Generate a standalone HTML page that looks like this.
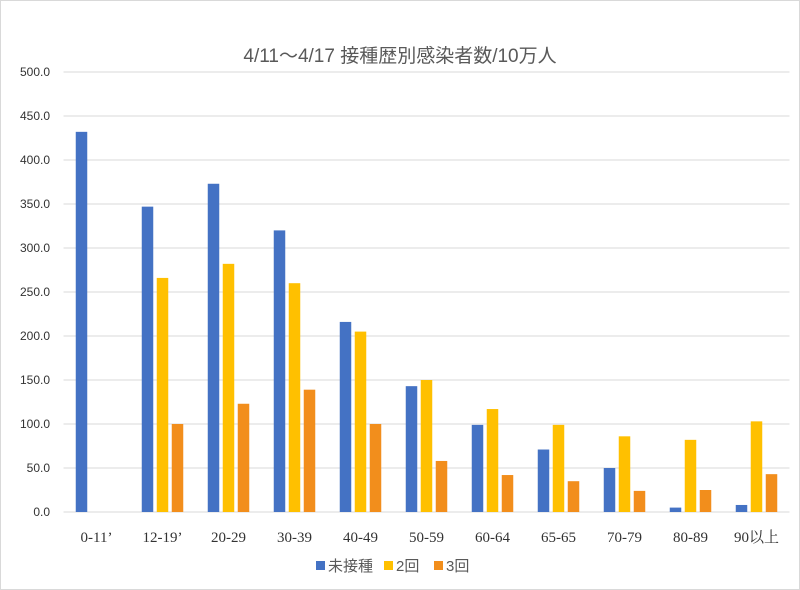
<!DOCTYPE html>
<html><head><meta charset="utf-8"><style>
body{margin:0;background:#fff;}
svg{display:block;font-family:"Liberation Sans","Noto Sans CJK JP",sans-serif;}
</style></head><body>
<svg id="chart" width="800" height="590" viewBox="0 0 800 590">
<rect x="0.5" y="0.5" width="799" height="589" fill="#fff" stroke="#d9d9d9"/>
<text x="400" y="62" text-anchor="middle" font-size="19" fill="#595959">4/11～4/17 接種歴別感染者数/10万人</text>
<g id="grid"></g><g id="bars"></g><g id="labels"></g>
<g>
<rect x="316" y="561" width="9" height="9" fill="#4472C4"/>
<text x="328" y="571" font-size="15" fill="#595959">未接種</text>
<rect x="384" y="561" width="9" height="9" fill="#FFC000"/>
<text x="396" y="571" font-size="15" fill="#595959">2回</text>
<rect x="434" y="561" width="9" height="9" fill="#F28E1C"/>
<text x="446" y="571" font-size="15" fill="#595959">3回</text>
</g>
</svg>
<script>
const categories=["0-11’","12-19’","20-29","30-39","40-49","50-59","60-64","65-65","70-79","80-89","90以上"];
const unvaccinated=[432,347,373,320,216,143,99,71,50,5,8];
const dose2=[0,266,282,260,205,150,117,99,86,82,103];
const dose3=[0,100,123,139,100,58,42,35,24,25,43];
const yTicks=[0,50,100,150,200,250,300,350,400,450,500];
const NS="http://www.w3.org/2000/svg";
const x0=63.5,groupW=66,yBase=512,yTop=72,yMax=500;
function y(v){return yBase-(v/yMax)*(yBase-yTop);}
function gx(i){return x0+groupW*(i+0.5);}
const grid=document.getElementById('grid'),bars=document.getElementById('bars'),labels=document.getElementById('labels');
yTicks.forEach(t=>{
 const l=document.createElementNS(NS,'line');
 l.setAttribute('x1',x0);l.setAttribute('x2',x0+groupW*categories.length);
 l.setAttribute('y1',y(t));l.setAttribute('y2',y(t));
 l.setAttribute('stroke','#d9d9d9');l.setAttribute('stroke-width','1');
 
 
 grid.appendChild(l);
 const tx=document.createElementNS(NS,'text');
 tx.setAttribute('x',50);tx.setAttribute('y',y(t)+4);tx.setAttribute('text-anchor','end');
 tx.setAttribute('font-size','12');tx.setAttribute('fill','#333');
 tx.textContent=t.toFixed(1);
 
 
 labels.appendChild(tx);
});
const series=[[unvaccinated,'#4472C4','bar-unvaccinated'],[dose2,'#FFC000','bar-2doses'],[dose3,'#F28E1C','bar-3doses']];
const bw=11.5,step=15;
categories.forEach((c,i)=>{
 series.forEach((s,j)=>{
  const v=s[0][i];
  const r=document.createElementNS(NS,'rect');
  r.setAttribute('x',gx(i)+(j-1)*step-bw/2);
  r.setAttribute('y',y(v));r.setAttribute('width',bw);r.setAttribute('height',yBase-y(v));
  r.setAttribute('fill',s[1]);
  
  
  bars.appendChild(r);
 });
 const tx=document.createElementNS(NS,'text');
 tx.setAttribute('x',gx(i));tx.setAttribute('y',542);tx.setAttribute('text-anchor','middle');
 tx.setAttribute('font-size','15');tx.setAttribute('fill','#333');
 tx.setAttribute('font-family','"Liberation Serif","Noto Serif CJK SC",serif');
 tx.textContent=c;
 
 
 labels.appendChild(tx);
});
</script>
</body></html>
